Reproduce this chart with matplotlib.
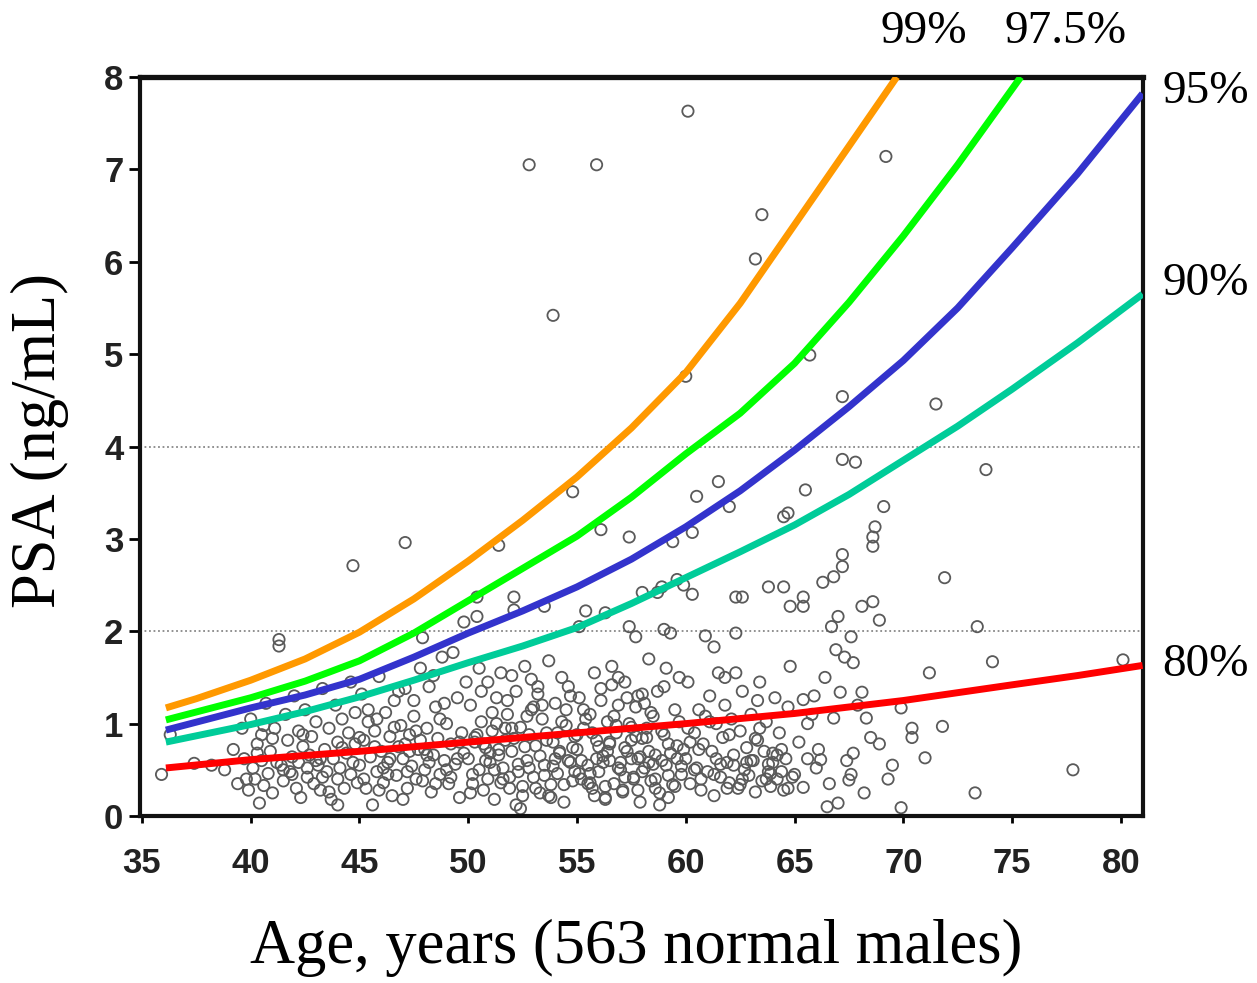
import numpy as np
import matplotlib.pyplot as plt

# percentile curves
p99_age = [36.1, 37.5, 40, 42.5, 45, 47.5, 50, 52.5, 55, 57.5, 60, 62.5, 65, 67.5, 69.7]
p99_psa = [1.17, 1.27, 1.47, 1.70, 1.99, 2.35, 2.76, 3.20, 3.67, 4.20, 4.80, 5.55, 6.40, 7.25, 8.0]
p975_age = [36.1, 40, 42.5, 45, 47.5, 50, 52.5, 55, 57.5, 60, 62.5, 65, 67.5, 70, 72.5, 75.4]
p975_psa = [1.04, 1.28, 1.46, 1.68, 1.98, 2.33, 2.68, 3.03, 3.45, 3.92, 4.36, 4.90, 5.56, 6.28, 7.05, 8.0]
p95_age = [36.1, 40, 42.5, 45, 47.5, 50, 52.5, 55, 57.5, 60, 62.5, 65, 67.5, 70, 72.5, 75, 78, 81]
p95_psa = [0.93, 1.17, 1.31, 1.48, 1.72, 1.98, 2.22, 2.48, 2.78, 3.13, 3.52, 3.96, 4.43, 4.93, 5.50, 6.15, 6.95, 7.82]
p90_age = [36.1, 40, 42.5, 45, 47.5, 50, 52.5, 55, 57.5, 60, 62.5, 65, 67.5, 70, 72.5, 75, 78, 81]
p90_psa = [0.80, 0.99, 1.13, 1.29, 1.47, 1.66, 1.84, 2.04, 2.30, 2.58, 2.86, 3.15, 3.48, 3.85, 4.22, 4.62, 5.12, 5.65]
p80_age = [36.1, 40, 45, 50, 55, 60, 65, 70, 75, 78, 81]
p80_psa = [0.52, 0.61, 0.70, 0.80, 0.90, 1.00, 1.11, 1.25, 1.42, 1.52, 1.63]

# individual men, grouped by age band
ages_a = [
    35.9, 36.3, 37.4, 38.2, 38.8, 39.2, 39.4, 39.6, 39.7, 39.9,
    40.0, 40.1, 40.2, 40.3, 40.4, 40.5, 40.5, 40.6, 40.7, 40.8,
    40.9, 41.0, 41.1, 41.2, 41.3, 41.3, 41.4, 41.5, 41.6, 41.7,
    41.8, 41.9, 42.0, 42.1, 42.2, 42.2, 42.3, 42.4, 42.5, 42.6,
    42.7, 42.8, 42.9, 43.0, 43.1, 43.2, 43.2, 43.3, 43.4, 43.5,
    43.6, 43.7, 43.8, 43.9, 44.0, 44.0, 44.1, 44.2, 44.3, 44.4,
    44.5, 44.6, 44.7, 44.8, 44.9, 39.8, 40.6, 41.0, 41.9, 42.6,
    43.0, 43.6, 44.2, 44.6, 40.3, 41.5, 42.4, 43.3, 44.0, 44.8]
psa_a = [
    0.45, 0.88, 0.57, 0.55, 0.50, 0.72, 0.35, 0.95, 0.62, 0.28,
    1.05, 0.52, 0.40, 0.78, 0.14, 0.88, 0.60, 0.33, 1.22, 0.46,
    0.70, 0.25, 0.95, 0.58, 1.91, 1.84, 0.55, 0.38, 1.10, 0.82,
    0.48, 0.64, 1.30, 0.30, 0.92, 0.58, 0.20, 0.75, 1.15, 0.42,
    0.66, 0.86, 0.35, 1.02, 0.55, 0.28, 0.62, 1.38, 0.72, 0.48,
    0.95, 0.18, 0.62, 1.20, 0.40, 0.80, 0.52, 1.05, 0.30, 0.68,
    0.90, 0.45, 0.58, 1.12, 0.36, 0.40, 0.98, 0.84, 0.45, 0.52,
    0.60, 0.26, 0.74, 1.45, 0.68, 0.50, 0.88, 0.42, 0.12, 0.78]

ages_b = [
    45.0, 45.1, 45.2, 45.3, 45.4, 45.5, 45.6, 45.7, 45.8, 45.9,
    46.0, 46.1, 46.2, 46.3, 46.4, 46.5, 46.6, 46.7, 46.8, 46.9,
    47.0, 47.1, 47.2, 47.3, 47.4, 47.5, 47.6, 47.7, 47.8, 47.9,
    48.0, 48.1, 48.2, 48.3, 48.4, 48.5, 48.6, 48.7, 48.8, 48.9,
    49.0, 49.1, 49.2, 49.3, 49.4, 49.5, 49.6, 49.7, 49.8, 49.9,
    45.2, 45.7, 46.1, 46.6, 47.0, 47.3, 47.8, 48.2, 48.7, 49.2,
    45.4, 45.9, 46.4, 46.8, 47.2, 47.6, 48.0, 48.5, 48.9, 49.5,
    45.0, 45.8, 46.3, 47.1, 47.5, 48.1, 48.4, 49.0, 49.6, 47.9]
psa_b = [
    0.55, 1.32, 0.82, 0.30, 1.02, 0.64, 0.12, 0.92, 0.48, 1.51,
    0.70, 0.36, 1.12, 0.58, 0.86, 0.22, 1.25, 0.44, 0.75, 0.98,
    0.62, 1.38, 0.30, 0.88, 0.54, 1.08, 0.40, 0.72, 1.60, 1.93,
    0.50, 0.95, 1.40, 0.26, 0.66, 1.18, 0.84, 0.45, 1.72, 0.60,
    1.00, 0.35, 0.78, 1.77, 0.56, 1.28, 0.20, 0.90, 0.68, 1.45,
    0.40, 0.75, 0.52, 0.96, 0.18, 0.70, 0.82, 0.58, 1.05, 0.42,
    1.15, 0.28, 0.62, 1.35, 0.48, 0.92, 0.72, 0.35, 1.22, 0.62,
    0.85, 1.05, 0.45, 0.78, 1.25, 0.66, 1.52, 0.50, 0.80, 0.38]

ages_c = [
    50.0, 50.1, 50.2, 50.3, 50.4, 50.5, 50.6, 50.7, 50.8, 50.9,
    51.0, 51.1, 51.2, 51.3, 51.4, 51.5, 51.6, 51.7, 51.8, 51.9,
    52.0, 52.1, 52.2, 52.3, 52.4, 52.5, 52.6, 52.7, 52.8, 52.9,
    53.0, 53.1, 53.2, 53.3, 53.4, 53.5, 53.6, 53.7, 53.8, 53.9,
    54.0, 54.1, 54.2, 54.3, 54.4, 54.5, 54.6, 54.7, 54.8, 54.9,
    50.2, 50.7, 51.1, 51.6, 52.0, 52.5, 52.9, 53.3, 53.8, 54.3,
    50.4, 50.9, 51.4, 51.8, 52.3, 52.7, 53.1, 53.6, 54.0, 54.6,
    50.1, 50.6, 51.2, 51.7, 52.2, 52.6, 53.0, 53.5, 54.1, 54.7,
    50.5, 51.0, 51.5, 52.1, 52.8, 53.2, 53.7, 54.2, 54.5, 54.9,
    50.3, 50.8, 51.3, 51.9, 52.4, 53.4, 53.9, 54.4, 54.8, 52.0]
psa_c = [
    0.62, 1.20, 0.35, 0.85, 2.16, 0.50, 1.02, 0.28, 0.74, 1.45,
    0.58, 0.92, 0.18, 1.28, 0.66, 1.55, 0.40, 0.82, 1.10, 0.30,
    0.70, 2.37, 1.35, 0.48, 0.96, 0.22, 1.62, 0.60, 0.88, 1.15,
    0.42, 0.76, 1.40, 0.25, 1.05, 0.55, 0.90, 1.68, 0.34, 0.80,
    1.22, 0.46, 0.68, 1.50, 0.15, 0.98, 0.60, 1.30, 0.38, 0.86,
    0.45, 0.78, 1.12, 0.52, 0.95, 0.32, 1.48, 0.65, 0.20, 1.02,
    0.88, 0.40, 0.72, 1.25, 0.56, 1.08, 0.30, 0.82, 0.62, 1.40,
    0.25, 1.35, 0.50, 0.95, 0.12, 0.75, 1.18, 0.44, 0.90, 0.58,
    1.60, 0.68, 0.36, 0.84, 0.52, 1.32, 0.22, 0.70, 1.15, 0.48,
    0.80, 0.60, 1.00, 0.42, 0.08, 1.20, 0.54, 0.34, 0.74, 1.52]

ages_d = [
    55.0, 55.1, 55.2, 55.3, 55.4, 55.5, 55.6, 55.7, 55.8, 55.9,
    56.0, 56.1, 56.2, 56.3, 56.4, 56.5, 56.6, 56.7, 56.8, 56.9,
    57.0, 57.1, 57.2, 57.3, 57.4, 57.5, 57.6, 57.7, 57.8, 57.9,
    58.0, 58.1, 58.2, 58.3, 58.4, 58.5, 58.6, 58.7, 58.8, 58.9,
    59.0, 59.1, 59.2, 59.3, 59.4, 59.5, 59.6, 59.7, 59.8, 59.9,
    55.2, 55.6, 56.1, 56.5, 57.0, 57.4, 57.8, 58.3, 58.7, 59.2,
    55.4, 55.9, 56.3, 56.8, 57.2, 57.6, 58.1, 58.5, 59.0, 59.5,
    55.1, 55.7, 56.2, 56.6, 57.1, 57.5, 58.0, 58.4, 58.9, 59.6,
    55.3, 55.8, 56.4, 56.9, 57.3, 57.9, 58.2, 58.6, 59.1, 59.8,
    55.5, 56.0, 56.7, 57.2, 57.7, 58.3, 58.8, 59.3, 59.7, 56.5,
    55.0, 55.6, 56.3, 56.9, 57.5, 58.0, 58.6, 59.2, 59.9, 57.8]
psa_d = [
    0.72, 1.28, 0.40, 0.95, 2.22, 0.55, 1.10, 0.30, 1.55, 0.82,
    0.48, 1.38, 0.65, 0.20, 1.02, 0.78, 1.62, 0.35, 0.90, 1.20,
    0.58, 0.28, 1.45, 0.70, 2.05, 0.96, 0.42, 1.18, 0.62, 0.15,
    1.32, 0.52, 0.85, 1.70, 0.38, 1.08, 0.66, 2.42, 0.25, 0.92,
    1.40, 0.55, 0.78, 1.98, 0.34, 1.15, 0.62, 1.50, 0.45, 2.50,
    0.60, 0.36, 1.25, 0.80, 0.50, 1.00, 0.28, 0.70, 1.35, 0.44,
    1.05, 0.62, 0.18, 0.98, 0.74, 0.40, 1.22, 0.56, 0.88, 0.32,
    0.46, 0.90, 0.58, 1.42, 0.26, 0.82, 0.48, 1.12, 0.60, 0.76,
    1.15, 0.22, 0.70, 0.52, 1.28, 0.64, 0.95, 0.30, 1.60, 0.54,
    0.35, 0.75, 1.08, 0.42, 0.86, 0.58, 0.12, 0.68, 1.02, 0.60,
    0.88, 0.46, 0.32, 1.50, 0.62, 0.84, 0.40, 0.20, 0.72, 1.30]

ages_e = [
    60.0, 60.1, 60.2, 60.3, 60.4, 60.5, 60.6, 60.7, 60.8, 60.9,
    61.0, 61.1, 61.2, 61.3, 61.4, 61.5, 61.6, 61.7, 61.8, 61.9,
    62.0, 62.1, 62.2, 62.3, 62.4, 62.5, 62.6, 62.7, 62.8, 62.9,
    63.0, 63.1, 63.2, 63.3, 63.4, 63.5, 63.6, 63.7, 63.8, 63.9,
    64.0, 64.1, 64.2, 64.3, 64.4, 64.5, 64.6, 64.7, 64.8, 64.9,
    60.2, 60.7, 61.1, 61.6, 62.0, 62.5, 63.0, 63.4, 63.9, 64.4,
    60.4, 60.9, 61.4, 61.9, 62.3, 62.8, 63.2, 63.7, 64.2, 64.7,
    60.1, 60.6, 61.3, 61.8, 62.6, 63.3, 63.8, 64.5, 64.0, 62.2]
psa_e = [
    0.62, 1.45, 0.35, 2.40, 0.90, 0.52, 1.15, 0.28, 0.78, 1.95,
    0.48, 1.30, 0.70, 0.22, 1.00, 1.55, 0.42, 0.85, 1.20, 0.58,
    0.36, 1.05, 0.66, 2.37, 0.30, 0.92, 1.35, 0.50, 0.74, 0.44,
    1.10, 0.60, 0.26, 0.82, 1.45, 0.38, 0.70, 1.02, 0.56, 0.32,
    0.68, 1.28, 0.40, 0.90, 0.48, 2.48, 0.62, 0.30, 1.62, 0.42,
    0.80, 0.40, 1.02, 0.56, 0.88, 0.34, 0.60, 0.95, 0.46, 0.72,
    0.50, 1.08, 0.62, 0.30, 1.55, 0.58, 0.84, 0.40, 0.66, 1.18,
    0.95, 0.72, 0.45, 1.50, 0.40, 1.25, 0.48, 0.28, 0.58, 0.55]

ages_f = [
    65.4, 65.4, 65.4, 65.4, 65.5, 65.6, 65.6, 65.0, 65.2, 65.8,
    66.0, 66.2, 66.3, 66.4, 66.5, 66.7, 66.8, 66.8, 66.9, 67.0,
    67.0, 67.1, 67.2, 67.2, 67.3, 67.5, 67.6, 67.6, 67.7, 67.7,
    67.8, 67.9, 68.1, 68.1, 68.2, 68.3, 68.5, 68.6, 68.6, 68.6,
    68.7, 68.9, 68.9, 69.1, 69.3, 69.5, 69.9, 69.9, 70.4, 70.4,
    71.0, 71.2, 71.5, 71.8, 71.9, 73.3, 73.4, 73.8, 74.1, 77.8,
    80.1, 65.9, 66.1, 66.6, 67.4]
psa_f = [
    2.37, 2.27, 1.26, 0.31, 3.53, 1.00, 0.62, 0.45, 0.80, 1.10,
    0.52, 0.61, 2.53, 1.50, 0.10, 2.05, 2.59, 1.06, 1.80, 2.16,
    0.14, 1.34, 2.83, 2.70, 1.72, 0.39, 1.94, 0.45, 1.66, 0.68,
    3.83, 1.20, 2.27, 1.34, 0.25, 1.06, 0.85, 2.32, 3.02, 2.92,
    3.13, 2.12, 0.78, 3.35, 0.40, 0.55, 1.17, 0.09, 0.95, 0.85,
    0.63, 1.55, 4.46, 0.97, 2.58, 0.25, 2.05, 3.75, 1.67, 0.50,
    1.69, 1.30, 0.72, 0.35, 0.60]

ages_hi = [
    60.1, 52.8, 55.9, 69.2, 53.9, 63.5, 63.2, 60.0, 65.7, 67.2,
    44.7, 47.1, 51.4, 54.8, 56.1, 57.4, 59.4, 60.3, 60.5, 61.5,
    62.0, 64.5, 64.7, 67.2, 50.4, 52.1, 53.5, 56.3, 58.0, 58.9,
    59.6, 62.6, 63.8, 64.8, 61.3, 57.7, 55.1, 49.8, 62.3, 59.0]
psa_hi = [
    7.63, 7.05, 7.05, 7.14, 5.42, 6.51, 6.03, 4.76, 4.99, 4.54,
    2.71, 2.96, 2.93, 3.51, 3.10, 3.02, 2.97, 3.07, 3.46, 3.62,
    3.35, 3.24, 3.28, 3.86, 2.37, 2.23, 2.27, 2.20, 2.42, 2.48,
    2.56, 2.37, 2.48, 2.27, 1.83, 1.94, 2.05, 2.10, 1.98, 2.02]

x_ticks = [35, 40, 45, 50, 55, 60, 65, 70, 75, 80]
y_ticks = [0, 1, 2, 3, 4, 5, 6, 7, 8]

ages = np.concatenate([ages_a, ages_b, ages_c, ages_d, ages_e, ages_f, ages_hi])
psa = np.concatenate([psa_a, psa_b, psa_c, psa_d, psa_e, psa_f, psa_hi])

W, H = 1257, 983
fig = plt.figure(figsize=(W / 100, H / 100), dpi=100)
ax = fig.add_axes([140 / W, 1 - 816 / H, (1143 - 140) / W, (816 - 77) / H])

ax.axhline(2, color='#888888', lw=1.3, ls=(0, (1, 1.5)), zorder=1)
ax.axhline(4, color='#888888', lw=1.3, ls=(0, (1, 1.5)), zorder=1)

ax.scatter(ages, psa, s=66, facecolors='none', edgecolors='#5a5a5a',
           linewidths=1.3, zorder=2, clip_on=False)

for xs, ys, col in [(p80_age, p80_psa, '#ff0000'),
                    (p90_age, p90_psa, '#00cc99'),
                    (p95_age, p95_psa, '#3333cc'),
                    (p975_age, p975_psa, '#00ff00'),
                    (p99_age, p99_psa, '#ff9900')]:
    ax.plot(xs, ys, color=col, lw=5, solid_capstyle='butt',
            solid_joinstyle='round', zorder=3)

ax.set_xlim(34.91, 81.02)
ax.set_ylim(0, 8)
ax.set_xticks(x_ticks)
ax.set_yticks(y_ticks)
tick_font = dict(family=['Liberation Sans', 'DejaVu Sans'],
                 weight='bold', size=25)
ax.set_xticklabels([str(t) for t in x_ticks], fontdict=tick_font, color='#222222')
ax.set_yticklabels([str(t) for t in y_ticks], fontdict=tick_font, color='#222222')
ax.tick_params(axis='x', direction='out', length=5, width=2, pad=17)
ax.tick_params(axis='y', direction='out', length=8, width=2, pad=4)
for sp in ax.spines.values():
    sp.set_linewidth(3)
    sp.set_color('#111111')
ax.spines['top'].set_linewidth(3.8)

serif = ['Liberation Serif', 'DejaVu Serif']
fig.text(40 / W, 1 - 440 / H, 'PSA (ng/mL)', rotation=90, ha='center',
         va='center', family=serif, size=45)
fig.text(636 / W, 1 - 948 / H, 'Age, years (563 normal males)', ha='center',
         va='center', family=serif, size=45)

pct_labels = [('99%', 924, 32, 'center'), ('97.5%', 1066, 32, 'center'),
              ('95%', 1162, 92, 'left'), ('90%', 1162, 284, 'left'),
              ('80%', 1162, 665, 'left')]
for txt, px, py, ha in pct_labels:
    fig.text(px / W, 1 - py / H, txt, ha=ha, va='center', family=serif, size=34)

fig.savefig('out.png', dpi=100)
